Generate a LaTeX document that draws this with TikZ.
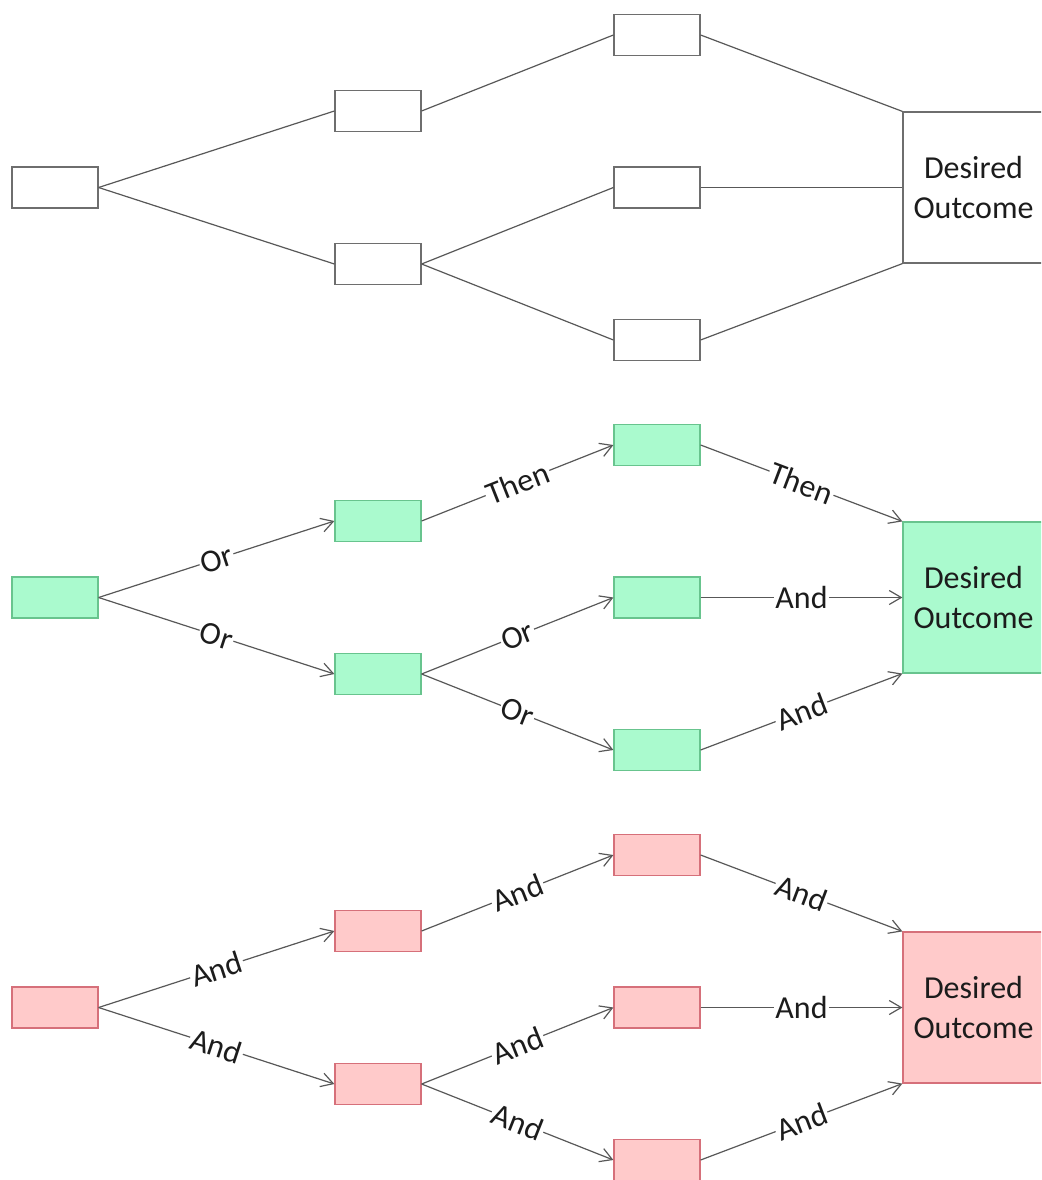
\documentclass[tikz,border=0pt]{standalone}
\usepackage{fontspec}
\setmainfont{Carlito}
\usetikzlibrary{arrows.meta}

\definecolor{edgegray}{RGB}{88,88,88}
\definecolor{plainline}{RGB}{110,110,110}
\definecolor{greenfill}{RGB}{170,250,206}
\definecolor{greenline}{RGB}{104,196,142}
\definecolor{pinkfill}{RGB}{255,202,202}
\definecolor{pinkline}{RGB}{214,112,122}
\definecolor{inktext}{RGB}{28,28,28}

\tikzset{
  box/.style={rectangle, draw, line width=1.2pt, minimum width=86pt,
    minimum height=41pt, inner sep=0pt},
  goal/.style={rectangle, draw, line width=1.2pt, minimum width=141pt,
    minimum height=151pt, inner sep=0pt, align=center, text=inktext,
    font=\fontsize{32}{40}\selectfont},
  plain/.style={draw=plainline, fill=white},
  greenbox/.style={draw=greenline, fill=greenfill},
  pinkbox/.style={draw=pinkline, fill=pinkfill},
  link/.style={draw=edgegray, line width=1.2pt},
  arrowlink/.style={link, -{Straight Barb[length=12pt, width=14pt, line width=1.2pt]}},
  lbl/.style={midway, sloped, fill=white, inner sep=1.5pt, text=inktext,
    font=\fontsize{32}{40}\selectfont}
}

\begin{document}
\begin{tikzpicture}[x=1pt, y=-1pt]
  \useasboundingbox (0,0) rectangle (1041,1180);
  \fill[white] (0,0) rectangle (1041,1180);
  \clip (0,0) rectangle (1041,1180);

  % ---------- plain tree ----------
  \node[box, plain] (tA)  at (55,187.5) {};
  \node[box, plain] (tB1) at (378,111) {};
  \node[box, plain] (tB2) at (378,264) {};
  \node[box, plain] (tC1) at (657,35) {};
  \node[box, plain] (tC2) at (657,187.5) {};
  \node[box, plain] (tC3) at (657,340) {};
  \node[goal, plain] (tO) at (973.5,187.5) {Desired\\Outcome};

  \draw[link] (tA.east) -- (tB1.west);
  \draw[link] (tA.east) -- (tB2.west);
  \draw[link] (tB1.east) -- (tC1.west);
  \draw[link] (tB2.east) -- (tC2.west);
  \draw[link] (tB2.east) -- (tC3.west);
  \draw[link] (tC1.east) -- (tO.north west);
  \draw[link] (tC2.east) -- (tO.west);
  \draw[link] (tC3.east) -- (tO.south west);

  % ---------- "or" tree (green) ----------
  \begin{scope}[shift={(0,410)}]
    \node[box, greenbox] (gA)  at (55,187.5) {};
    \node[box, greenbox] (gB1) at (378,111) {};
    \node[box, greenbox] (gB2) at (378,264) {};
    \node[box, greenbox] (gC1) at (657,35) {};
    \node[box, greenbox] (gC2) at (657,187.5) {};
    \node[box, greenbox] (gC3) at (657,340) {};
    \node[goal, greenbox] (gO) at (973.5,187.5) {Desired\\Outcome};
  \end{scope}

  \draw[arrowlink] (gA.east) -- node[lbl] {Or} (gB1.west);
  \draw[arrowlink] (gA.east) -- node[lbl] {Or} (gB2.west);
  \draw[arrowlink] (gB1.east) -- node[lbl] {Then} (gC1.west);
  \draw[arrowlink] (gB2.east) -- node[lbl] {Or} (gC2.west);
  \draw[arrowlink] (gB2.east) -- node[lbl] {Or} (gC3.west);
  \draw[arrowlink] (gC1.east) -- node[lbl] {Then} (gO.north west);
  \draw[arrowlink] (gC2.east) -- node[lbl] {And} (gO.west);
  \draw[arrowlink] (gC3.east) -- node[lbl] {And} (gO.south west);

  % ---------- "and" tree (pink) ----------
  \begin{scope}[shift={(0,820)}]
    \node[box, pinkbox] (rA)  at (55,187.5) {};
    \node[box, pinkbox] (rB1) at (378,111) {};
    \node[box, pinkbox] (rB2) at (378,264) {};
    \node[box, pinkbox] (rC1) at (657,35) {};
    \node[box, pinkbox] (rC2) at (657,187.5) {};
    \node[box, pinkbox] (rC3) at (657,340) {};
    \node[goal, pinkbox] (rO) at (973.5,187.5) {Desired\\Outcome};
  \end{scope}

  \draw[arrowlink] (rA.east) -- node[lbl] {And} (rB1.west);
  \draw[arrowlink] (rA.east) -- node[lbl] {And} (rB2.west);
  \draw[arrowlink] (rB1.east) -- node[lbl] {And} (rC1.west);
  \draw[arrowlink] (rB2.east) -- node[lbl] {And} (rC2.west);
  \draw[arrowlink] (rB2.east) -- node[lbl] {And} (rC3.west);
  \draw[arrowlink] (rC1.east) -- node[lbl] {And} (rO.north west);
  \draw[arrowlink] (rC2.east) -- node[lbl] {And} (rO.west);
  \draw[arrowlink] (rC3.east) -- node[lbl] {And} (rO.south west);
\end{tikzpicture}
\end{document}
